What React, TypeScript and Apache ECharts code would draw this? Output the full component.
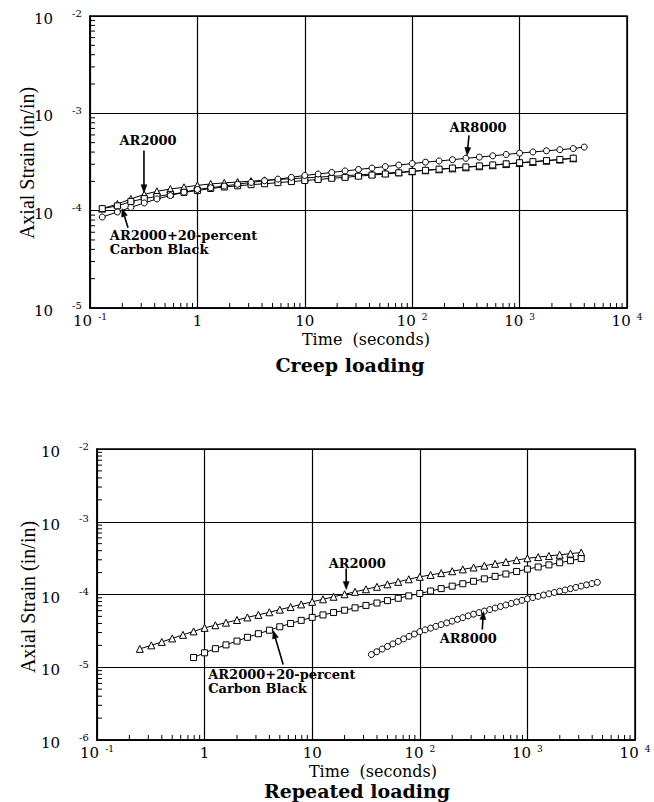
import React, { useEffect, useRef } from "react";
import * as echarts from "echarts";

// ---------- Creep loading (top chart) ----------
const creepTime = [0.13, 0.18, 0.24, 0.32, 0.42, 0.56, 0.75, 1, 1.33, 1.78, 2.37, 3.16, 4.22, 5.62, 7.5, 10, 13.3, 17.8, 23.7, 31.6, 42.2, 56.2, 75, 100, 133, 178, 237, 316, 422, 562, 750, 1000, 1330, 1780, 2370, 3160, 4000];
const creepAR8000 = [0.86e-4, 0.97e-4, 1.08e-4, 1.2e-4, 1.32e-4, 1.43e-4, 1.55e-4, 1.65e-4, 1.72e-4, 1.79e-4, 1.87e-4, 1.95e-4, 2.03e-4, 2.11e-4, 2.2e-4, 2.3e-4, 2.38e-4, 2.47e-4, 2.56e-4, 2.65e-4, 2.74e-4, 2.84e-4, 2.94e-4, 3.05e-4, 3.15e-4, 3.24e-4, 3.34e-4, 3.45e-4, 3.55e-4, 3.66e-4, 3.78e-4, 3.9e-4, 4.01e-4, 4.12e-4, 4.23e-4, 4.35e-4, 4.5e-4];
const creepAR2000 = [1.05e-4, 1.17e-4, 1.32e-4, 1.47e-4, 1.58e-4, 1.67e-4, 1.74e-4, 1.82e-4, 1.88e-4, 1.93e-4, 1.97e-4, 2.01e-4, 2.05e-4, 2.09e-4, 2.13e-4, 2.17e-4, 2.21e-4, 2.25e-4, 2.29e-4, 2.33e-4, 2.38e-4, 2.43e-4, 2.48e-4, 2.54e-4, 2.6e-4, 2.66e-4, 2.72e-4, 2.79e-4, 2.86e-4, 2.93e-4, 3.01e-4, 3.09e-4, 3.17e-4, 3.26e-4, 3.35e-4, 3.45e-4];
const creepCarbon = [1.05e-4, 1.12e-4, 1.24e-4, 1.33e-4, 1.4e-4, 1.47e-4, 1.54e-4, 1.61e-4, 1.69e-4, 1.75e-4, 1.8e-4, 1.85e-4, 1.89e-4, 1.94e-4, 1.99e-4, 2.04e-4, 2.09e-4, 2.15e-4, 2.2e-4, 2.26e-4, 2.32e-4, 2.38e-4, 2.45e-4, 2.53e-4, 2.6e-4, 2.67e-4, 2.74e-4, 2.81e-4, 2.88e-4, 2.95e-4, 3.03e-4, 3.11e-4, 3.19e-4, 3.27e-4, 3.36e-4, 3.46e-4];

// ---------- Repeated loading (bottom chart) ----------
const repAR2000Time = [0.25, 0.32, 0.4, 0.5, 0.63, 0.79, 1, 1.26, 1.58, 2, 2.5, 3.16, 4, 5, 6.3, 7.9, 10, 12.6, 15.8, 20, 25, 31.6, 40, 50, 63, 79, 100, 126, 158, 200, 251, 316, 398, 501, 631, 794, 1000, 1259, 1585, 1995, 2512, 3162];
const repAR2000 = [0.179e-4, 0.2e-4, 0.223e-4, 0.249e-4, 0.279e-4, 0.311e-4, 0.348e-4, 0.378e-4, 0.41e-4, 0.446e-4, 0.484e-4, 0.525e-4, 0.57e-4, 0.619e-4, 0.673e-4, 0.731e-4, 0.794e-4, 0.859e-4, 0.931e-4, 1.007e-4, 1.089e-4, 1.18e-4, 1.276e-4, 1.38e-4, 1.493e-4, 1.618e-4, 1.75e-4, 1.858e-4, 1.968e-4, 2.089e-4, 2.213e-4, 2.35e-4, 2.489e-4, 2.642e-4, 2.799e-4, 2.972e-4, 3.148e-4, 3.266e-4, 3.388e-4, 3.516e-4, 3.648e-4, 3.776e-4];
const repCarbonTime = [0.79, 1, 1.26, 1.58, 2, 2.5, 3.16, 4, 5, 6.3, 7.9, 10, 12.6, 15.8, 20, 25, 31.6, 40, 50, 63, 79, 100, 126, 158, 200, 251, 316, 398, 501, 631, 794, 1000, 1259, 1585, 1995, 2512, 3162];
const repCarbon = [0.136e-4, 0.158e-4, 0.18e-4, 0.203e-4, 0.229e-4, 0.258e-4, 0.289e-4, 0.323e-4, 0.36e-4, 0.399e-4, 0.441e-4, 0.485e-4, 0.524e-4, 0.565e-4, 0.608e-4, 0.656e-4, 0.708e-4, 0.764e-4, 0.824e-4, 0.887e-4, 0.957e-4, 1.033e-4, 1.116e-4, 1.205e-4, 1.303e-4, 1.406e-4, 1.52e-4, 1.641e-4, 1.774e-4, 1.914e-4, 2.07e-4, 2.234e-4, 2.388e-4, 2.553e-4, 2.729e-4, 2.917e-4, 3.119e-4];
const repAR8000Time = [35.5, 39.8, 44.7, 50.1, 56.2, 63.1, 70.8, 79.4, 89.1, 100, 112, 126, 141, 158, 178, 200, 224, 251, 282, 316, 355, 398, 447, 501, 562, 631, 708, 794, 891, 1000, 1122, 1259, 1413, 1585, 1778, 1995, 2239, 2512, 2818, 3162, 3548, 3981, 4467];
const repAR8000 = [0.1496e-4, 0.1633e-4, 0.1778e-4, 0.1932e-4, 0.2094e-4, 0.227e-4, 0.2455e-4, 0.2655e-4, 0.2864e-4, 0.309e-4, 0.3266e-4, 0.3451e-4, 0.3648e-4, 0.3855e-4, 0.4074e-4, 0.4305e-4, 0.455e-4, 0.4808e-4, 0.5082e-4, 0.537e-4, 0.5636e-4, 0.5916e-4, 0.6209e-4, 0.6516e-4, 0.6839e-4, 0.7178e-4, 0.7534e-4, 0.7907e-4, 0.8299e-4, 0.871e-4, 0.9067e-4, 0.9441e-4, 0.9829e-4, 1.0233e-4, 1.0654e-4, 1.1092e-4, 1.1548e-4, 1.2023e-4, 1.2517e-4, 1.3032e-4, 1.3568e-4, 1.4125e-4, 1.4706e-4];

// axis ranges and decade tick values
const xRange = [0.1, 10000];
const yRanges = [
  [1e-5, 1e-2],
  [1e-6, 1e-2],
];
const yDecades = [
  [1e-2, 1e-3, 1e-4, 1e-5],
  [1e-2, 1e-3, 1e-4, 1e-5, 1e-6],
];

// annotation labels (text, arrows) in data coordinates
const annotations = [
  { g: 0, text: "AR2000", textAt: [0.347, 5.27e-4], from: [0.318, 4.15e-4], to: [0.318, 1.53e-4], align: "center" },
  { g: 0, text: "AR2000+20-percent\nCarbon Black", textAt: [0.153, 6.6e-5], from: [0.226, 6.68e-5], to: [0.199, 1.05e-4], align: "left" },
  { g: 0, text: "AR8000", textAt: [410, 7.17e-4], from: [338, 5.93e-4], to: [324, 3.69e-4], align: "center" },
  { g: 1, text: "AR2000", textAt: [26.2, 2.67e-4], from: [20.7, 2.28e-4], to: [20.7, 1.17e-4], align: "center" },
  { g: 1, text: "AR2000+20-percent\nCarbon Black", textAt: [1.08, 9.8e-6], from: [5.37, 1.09e-5], to: [4.34, 3.2e-5], align: "left" },
  { g: 1, text: "AR8000", textAt: [282, 2.48e-5], from: [381, 3.3e-5], to: [390, 5.84e-5], align: "center" },
];

const GRIDS = [
  { left: 90, top: 16, width: 537, height: 292 },
  { left: 97, top: 449, width: 538, height: 291 },
];

const SERIF = "DejaVu Serif";

function minorTicks(lo: number, hi: number) {
  const out: number[] = [];
  for (let e = lo; e < hi; e++) for (let k = 2; k <= 9; k++) out.push(k * Math.pow(10, e));
  return out;
}

function supText(e: number) {
  return e < 0 ? "-" + -e : String(e);
}

export default function App() {
  const ref = useRef<HTMLDivElement>(null);
  useEffect(() => {
    if (!ref.current) return;
    const chart = echarts.init(ref.current, null, { renderer: "svg" });

    const xAxes = GRIDS.map((_, g) => ({
      type: "log",
      logBase: 10,
      gridIndex: g,
      min: xRange[0],
      max: xRange[1],
      axisLine: { show: true, lineStyle: { color: "#000", width: 1.5 } },
      axisTick: { show: false },
      splitLine: { show: true, lineStyle: { color: "#000", width: 1.2 } },
      axisLabel: {
        margin: 4,
        formatter: (v: number) => {
          const e = Math.round(Math.log10(v));
          if (e === 0) return "{b|1}";
          if (e === 1) return "{b|10}";
          return `{b|10}{g| }{s|${supText(e)}}`;
        },
        rich: {
          b: { fontFamily: SERIF, fontSize: 15, color: "#000", lineHeight: 16, verticalAlign: "bottom" },
          g: { fontSize: 9, width: 6, lineHeight: 10, verticalAlign: "top" },
          s: { fontFamily: SERIF, fontSize: 9, color: "#000", lineHeight: 9, verticalAlign: "top" },
        },
      },
    }));

    const yAxes = GRIDS.map((_, g) => ({
      type: "log",
      logBase: 10,
      gridIndex: g,
      min: yRanges[g][0],
      max: yRanges[g][1],
      axisLine: { show: true, lineStyle: { color: "#000", width: 1.5 } },
      axisTick: { show: false },
      splitLine: { show: true, lineStyle: { color: "#000", width: 1.2 } },
      axisLabel: { show: false },
    }));

    const lineSeries = (g: number, xs: number[], ys: number[], symbol: string, size: number) => ({
      type: "line",
      xAxisIndex: g,
      yAxisIndex: g,
      data: xs.map((x, i) => [x, ys[i]]),
      symbol,
      symbolSize: size,
      showAllSymbol: true,
      lineStyle: { color: "#000", width: 1 },
      itemStyle: { color: "#fff", borderColor: "#000", borderWidth: 1 },
      emphasis: { disabled: true },
      z: 4,
    });

    const tickSeries: any[] = [];
    GRIDS.forEach((_, g) => {
      const yLo = yRanges[g][0];
      tickSeries.push({
        type: "custom",
        xAxisIndex: g,
        yAxisIndex: g,
        silent: true,
        z: 5,
        data: minorTicks(-1, 4).map((v) => [v, yLo]),
        renderItem: (_p: any, api: any) => {
          const p = api.coord([api.value(0), api.value(1)]);
          return { type: "line", shape: { x1: p[0], y1: p[1], x2: p[0], y2: p[1] - 5 }, style: { stroke: "#000", lineWidth: 1 } };
        },
      });
      tickSeries.push({
        type: "custom",
        xAxisIndex: g,
        yAxisIndex: g,
        silent: true,
        z: 5,
        data: minorTicks(Math.round(Math.log10(yRanges[g][0])), -2).map((v) => [xRange[0], v]),
        renderItem: (_p: any, api: any) => {
          const p = api.coord([api.value(0), api.value(1)]);
          return { type: "line", shape: { x1: p[0], y1: p[1], x2: p[0] + 5, y2: p[1] }, style: { stroke: "#000", lineWidth: 1 } };
        },
      });
    });

    chart.setOption({
      animation: false,
      backgroundColor: "#fff",
      grid: GRIDS.map((g) => ({ ...g, show: true, borderColor: "#000", borderWidth: 1.5, backgroundColor: "transparent" })),
      xAxis: xAxes,
      yAxis: yAxes,
      series: [
        lineSeries(0, creepTime, creepAR2000, "triangle", 7),
        lineSeries(0, creepTime, creepCarbon, "rect", 6),
        lineSeries(0, creepTime, creepAR8000, "circle", 6),
        lineSeries(1, repAR2000Time, repAR2000, "triangle", 7),
        lineSeries(1, repCarbonTime, repCarbon, "rect", 6),
        lineSeries(1, repAR8000Time, repAR8000, "circle", 6),
        ...tickSeries,
      ],
    });

    const px = (g: number, p: number[]) => chart.convertToPixel({ gridIndex: g }, p) as number[];
    const graphics: any[] = [
      { type: "text", x: 350, y: 365, style: { text: "Creep loading", font: `bold 19px "${SERIF}"`, fill: "#000", align: "center", verticalAlign: "middle" } },
      { type: "text", x: 357, y: 791, style: { text: "Repeated loading", font: `bold 19px "${SERIF}"`, fill: "#000", align: "center", verticalAlign: "middle" } },
      { type: "text", x: 366, y: 339, style: { text: "Time  (seconds)", font: `16px "${SERIF}"`, fill: "#000", align: "center", verticalAlign: "middle" } },
      { type: "text", x: 373, y: 771, style: { text: "Time  (seconds)", font: `16px "${SERIF}"`, fill: "#000", align: "center", verticalAlign: "middle" } },
      { type: "text", x: 27, y: 163, rotation: Math.PI / 2, style: { text: "Axial Strain (in/in)", font: `20px "Liberation Serif"`, fill: "#000", align: "center", verticalAlign: "middle" } },
      { type: "text", x: 28, y: 597, rotation: Math.PI / 2, style: { text: "Axial Strain (in/in)", font: `20px "Liberation Serif"`, fill: "#000", align: "center", verticalAlign: "middle" } },
    ];

    // y-axis decade labels: "10" with a raised exponent
    GRIDS.forEach((_, g) => {
      yDecades[g].forEach((v) => {
        const p = px(g, [xRange[0], v]);
        graphics.push({
          type: "text",
          x: p[0] - 37,
          y: p[1] + 3,
          style: { text: "10", font: `15px "${SERIF}"`, fill: "#000", align: "right", verticalAlign: "middle" },
        });
        graphics.push({
          type: "text",
          x: p[0] - 18,
          y: p[1] - 3,
          style: { text: supText(Math.round(Math.log10(v))), font: `10px "${SERIF}"`, fill: "#000", align: "left", verticalAlign: "middle" },
        });
      });
    });

    annotations.forEach((a) => {
      const t = px(a.g, a.textAt);
      const s = px(a.g, a.from);
      const e = px(a.g, a.to);
      graphics.push({
        type: "text",
        x: t[0],
        y: t[1],
        z: 10,
        style: {
          text: a.text,
          font: `bold 13px "${SERIF}"`,
          lineHeight: 14,
          fill: "#000",
          align: a.align,
          verticalAlign: a.align === "left" ? "top" : "middle",
        },
      });
      const dx = e[0] - s[0];
      const dy = e[1] - s[1];
      const len = Math.sqrt(dx * dx + dy * dy) || 1;
      const ux = dx / len;
      const uy = dy / len;
      const nx = -uy;
      const ny = ux;
      const hl = 8;
      const hw = 3;
      const bx = e[0] - ux * hl;
      const by = e[1] - uy * hl;
      graphics.push({
        type: "line",
        z: 10,
        shape: { x1: s[0], y1: s[1], x2: bx + ux * 2, y2: by + uy * 2 },
        style: { stroke: "#000", lineWidth: 1.6 },
      });
      graphics.push({
        type: "polygon",
        z: 10,
        shape: { points: [[e[0], e[1]], [bx + nx * hw, by + ny * hw], [bx - nx * hw, by - ny * hw]] },
        style: { fill: "#000", stroke: "#000", lineWidth: 0.5 },
      });
    });
    chart.setOption({ graphic: graphics });

    return () => chart.dispose();
  }, []);

  return <div ref={ref} style={{ position: "fixed", left: 0, top: 0, width: 654, height: 802, background: "#fff" }} />;
}
